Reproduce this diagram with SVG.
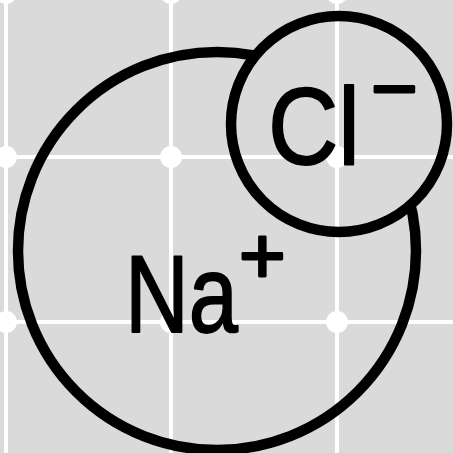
<svg xmlns="http://www.w3.org/2000/svg" width="453" height="453" viewBox="0 0 453 453">
  <style>
    .grid { stroke: #ffffff; stroke-width: 4; fill: none; }
    .dot { fill: #ffffff; }
    .ring { fill: none; stroke: #000000; stroke-width: 10.5; }
    .lbl { font-family: "Liberation Sans", Arial, sans-serif; fill: #000000; stroke: #000000; stroke-width: 1.8; stroke-linejoin: round; }
    .sup { font-size: 80px; stroke-width: 2.8; stroke-linecap: round; }
  </style>
  <defs>
    <mask id="hideInsideCl" maskUnits="userSpaceOnUse" x="0" y="0" width="453" height="453">
      <rect x="0" y="0" width="453" height="453" fill="#ffffff"/>
      <circle cx="339" cy="124" r="105" fill="#000000"/>
    </mask>
  </defs>
  <rect id="background" x="0" y="0" width="453" height="453" fill="#dadada"/>
  <g id="grid">
    <line class="grid" x1="6" y1="0" x2="6" y2="453"/>
    <line class="grid" x1="171" y1="0" x2="171" y2="453"/>
    <line class="grid" x1="337" y1="0" x2="337" y2="453"/>
    <line class="grid" x1="0" y1="157" x2="453" y2="157"/>
    <line class="grid" x1="0" y1="322" x2="453" y2="322"/>
    <circle class="dot" cx="6" cy="-7" r="11"/>
    <circle class="dot" cx="171" cy="-7" r="11"/>
    <circle class="dot" cx="337" cy="-7" r="11"/>
    <circle class="dot" cx="6" cy="157" r="11"/>
    <circle class="dot" cx="171" cy="157" r="11"/>
    <circle class="dot" cx="337" cy="157" r="11"/>
    <circle class="dot" cx="6" cy="322" r="11"/>
    <circle class="dot" cx="171" cy="322" r="11"/>
    <circle class="dot" cx="337" cy="322" r="11"/>
  </g>
  <g id="node-na">
    <circle class="ring" cx="217" cy="251" r="199" mask="url(#hideInsideCl)"/>
    <text class="lbl" x="125" y="332" font-size="110"><tspan textLength="113" lengthAdjust="spacingAndGlyphs">Na</tspan><tspan class="sup" x="239" y="283">+</tspan></text>
  </g>
  <g id="node-cl">
    <circle class="ring" cx="339" cy="124" r="108"/>
    <text class="lbl" x="268" y="164" font-size="110"><tspan textLength="92" lengthAdjust="spacingAndGlyphs">Cl</tspan><tspan class="sup" x="371" y="116">−</tspan></text>
  </g>
</svg>
